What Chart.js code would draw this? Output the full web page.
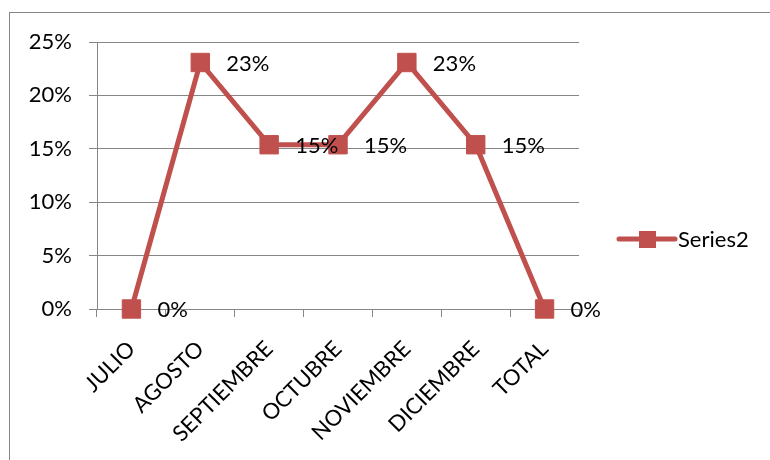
<!DOCTYPE html>
<html>
<head>
<meta charset="utf-8">
<script src="https://cdn.jsdelivr.net/npm/chart.js@4/dist/chart.umd.min.js"></script>
<style>
  html, body { margin: 0; padding: 0; background: #fff; }
  #wrap { position: relative; width: 770px; height: 460px; overflow: hidden; }
  #frame { position: absolute; left: 9px; top: 12px; width: 900px; height: 600px;
           border-left: 1px solid #868686; border-top: 1px solid #868686; }
  canvas { position: absolute; left: 0; top: 0; }
</style>
</head>
<body>
<div id="wrap">
  <div id="frame"></div>
  <canvas id="lineChart" width="770" height="460"></canvas>
</div>
<script>
const months = ['JULIO', 'AGOSTO', 'SEPTIEMBRE', 'OCTUBRE', 'NOVIEMBRE', 'DICIEMBRE', 'TOTAL'];
const series2 = [0, 0.2308, 0.1538, 0.1538, 0.2308, 0.1538, 0];
const yTicks = [0, 0.05, 0.10, 0.15, 0.20, 0.25];

const red = '#C0504D';
const gray = '#868686';
const font = { family: 'Lato, "Open Sans", sans-serif', size: 22 };

const pct = v => Math.round(v * 100) + '%';

// value labels to the right of each marker
const pointLabels = {
    id: 'pointLabels',
    afterDatasetsDraw(chart) {
        const ctx = chart.ctx;
        const meta = chart.getDatasetMeta(0);
        ctx.save();
        ctx.font = `${font.size}px ${font.family}`;
        ctx.fillStyle = '#000';
        ctx.textAlign = 'left';
        ctx.textBaseline = 'middle';
        meta.data.forEach((pt, i) => {
            ctx.fillText(pct(chart.data.datasets[0].data[i]), pt.x + 26, pt.y + 1);
        });
        ctx.restore();
    }
};

// legend key: line with a square marker, then the series name
const seriesKey = {
    id: 'seriesKey',
    afterDraw(chart) {
        const ctx = chart.ctx;
        const ds = chart.data.datasets[0];
        const x0 = chart.chartArea.right + 40;
        const y = 239;
        ctx.save();
        ctx.strokeStyle = ds.borderColor;
        ctx.lineWidth = 5;
        ctx.lineCap = 'round';
        ctx.beginPath();
        ctx.moveTo(x0, y);
        ctx.lineTo(x0 + 56, y);
        ctx.stroke();
        ctx.fillStyle = ds.pointBackgroundColor;
        ctx.fillRect(x0 + 20, y - 8, 17, 17);
        ctx.font = `${font.size}px ${font.family}`;
        ctx.fillStyle = '#000';
        ctx.textBaseline = 'middle';
        ctx.fillText(ds.label, x0 + 59, y + 1);
        ctx.restore();
    }
};

const ctxLine = document.getElementById('lineChart').getContext('2d');
new Chart(ctxLine, {
    type: 'line',
    data: {
        labels: months,
        datasets: [{
            label: 'Series2',
            data: series2,
            borderColor: red,
            backgroundColor: red,
            borderWidth: 5,
            pointStyle: 'rect',
            pointRadius: 13,
            pointBackgroundColor: red,
            pointBorderColor: red,
            pointBorderWidth: 1,
            tension: 0,
            clip: false
        }]
    },
    options: {
        responsive: false,
        animation: false,
        layout: { padding: { left: 0, top: 42, right: 191, bottom: 0 } },
        plugins: {
            legend: { display: false },
            tooltip: { enabled: false }
        },
        scales: {
            x: {
                offset: true,
                afterFit: s => { s.height = 151; },
                grid: { offset: true, drawOnChartArea: false, drawTicks: true, tickLength: 8, color: gray, lineWidth: 1 },
                border: { color: gray, width: 1 },
                ticks: {
                    color: '#000', font: font, autoSkip: false,
                    minRotation: 45, maxRotation: 45, padding: 19
                }
            },
            y: {
                min: 0,
                max: 0.25,
                afterFit: s => { s.width = 97; },
                afterBuildTicks: s => { s.ticks = yTicks.map(v => ({ value: v })); },
                grid: { color: gray, lineWidth: 1, tickLength: 8 },
                border: { color: gray, width: 1 },
                ticks: { color: '#000', font: font, padding: 17, callback: v => pct(v) }
            }
        }
    },
    plugins: [pointLabels, seriesKey]
});
</script>
</body>
</html>
